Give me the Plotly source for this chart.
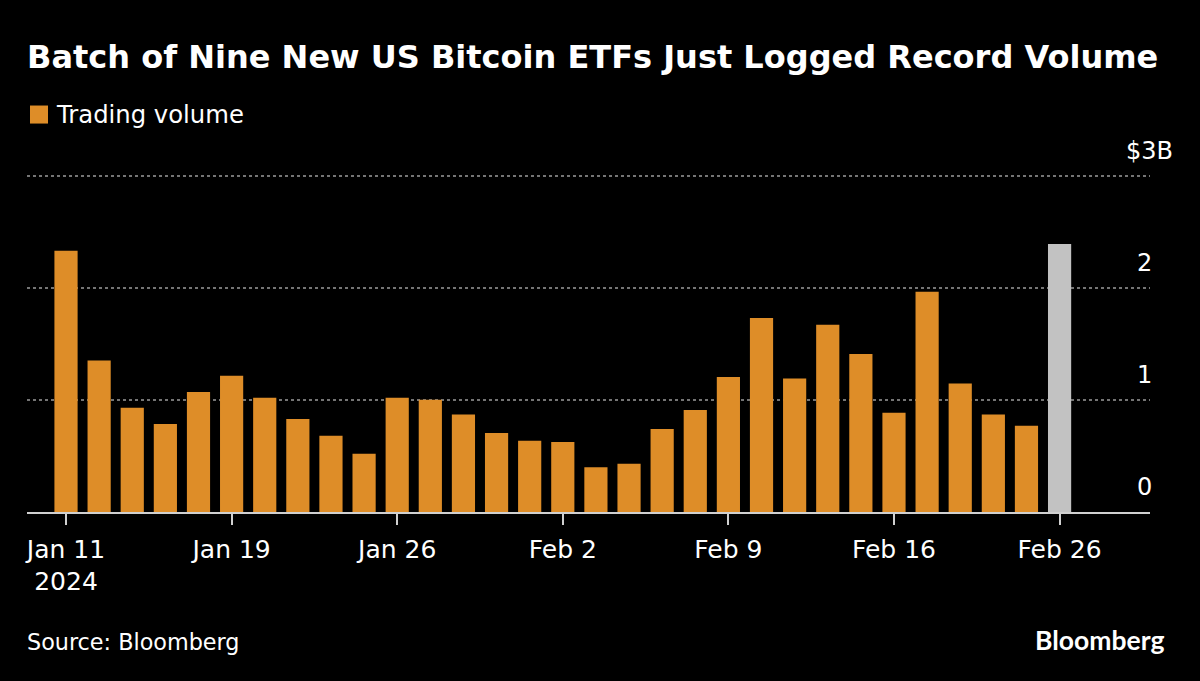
import plotly.graph_objects as go

trade_dates = ['2024-01-11', '2024-01-12', '2024-01-16', '2024-01-17', '2024-01-18', '2024-01-19',
               '2024-01-22', '2024-01-23', '2024-01-24', '2024-01-25', '2024-01-26',
               '2024-01-29', '2024-01-30', '2024-01-31', '2024-02-01', '2024-02-02',
               '2024-02-05', '2024-02-06', '2024-02-07', '2024-02-08', '2024-02-09',
               '2024-02-12', '2024-02-13', '2024-02-14', '2024-02-15', '2024-02-16',
               '2024-02-20', '2024-02-21', '2024-02-22', '2024-02-23', '2024-02-26']
volume = [2.33, 1.35, 0.93, 0.785, 1.07, 1.215,
          1.02, 0.83, 0.68, 0.52, 1.02,
          1.0, 0.87, 0.705, 0.635, 0.625,
          0.40, 0.43, 0.74, 0.91, 1.205,
          1.73, 1.19, 1.67, 1.41, 0.885,
          1.965, 1.145, 0.87, 0.77, 2.39]

x_tick_dates = ['2024-01-11', '2024-01-19', '2024-01-26', '2024-02-02', '2024-02-09', '2024-02-16', '2024-02-26']
x_tick_labels = ['Jan 11<br>2024', 'Jan 19', 'Jan 26', 'Feb 2', 'Feb 9', 'Feb 16', 'Feb 26']
y_ticks = [0, 1, 2, 3]
y_tick_labels = ['0', '1', '2', '$3B']

ORANGE = '#DE8D28'
GREY = '#C2C2C2'
FONT = 'DejaVu Sans'

PLOT_LEFT, PLOT_RIGHT, PLOT_TOP, PLOT_BOTTOM = 27, 1150, 170.4, 512


def px_x(px):
    return (px - PLOT_LEFT) / (PLOT_RIGHT - PLOT_LEFT)


def px_y(px):
    return (PLOT_BOTTOM - px) / (PLOT_BOTTOM - PLOT_TOP)


bar_colors = [ORANGE] * (len(volume) - 1) + [GREY]

fig = go.Figure()
fig.add_trace(go.Bar(x=trade_dates, y=volume, width=0.7, showlegend=False,
                     marker=dict(color=bar_colors, line=dict(width=0))))

fig.update_layout(
    width=1200, height=681,
    margin=dict(l=PLOT_LEFT, r=1200 - PLOT_RIGHT, t=PLOT_TOP, b=681 - PLOT_BOTTOM),
    paper_bgcolor='black', plot_bgcolor='black',
    font=dict(family=FONT, color='white', size=25),
    title=dict(text='<b>Batch of Nine New US Bitcoin ETFs Just Logged Record Volume</b>',
               x=27 / 1200, xanchor='left', y=1 - 57 / 681, yanchor='middle',
               font=dict(family=FONT, size=32, color='white')),
    showlegend=False,
)
fig.update_xaxes(type='category', categoryorder='array', categoryarray=trade_dates,
                 range=[-1.178, 32.73],
                 tickmode='array', tickvals=x_tick_dates, ticktext=x_tick_labels,
                 ticks='outside', ticklen=11, tickwidth=1.5, tickcolor='#D0D0D0',
                 showline=True, linecolor='#D0D0D0', linewidth=1.5,
                 showgrid=False, zeroline=False, ticklabelstandoff=3,
                 tickfont=dict(family=FONT, size=25, color='white'))
fig.update_yaxes(range=[0, 3.05], tickmode='array', tickvals=y_ticks, showticklabels=False,
                 showgrid=True, gridcolor='#757575', gridwidth=1.5, griddash='3px,3px',
                 zeroline=False, showline=False, ticks='')

# value labels sit above their gridlines, the unit hangs past the numbers
for val, label in zip(y_ticks, y_tick_labels):
    fig.add_annotation(xref='paper', yref='y', x=1, y=val, text=label, showarrow=False,
                       xanchor='right', yanchor='bottom', yshift=9,
                       xshift=25 if label.endswith('B') else 4,
                       font=dict(family=FONT, size=24, color='white'))

# legend
fig.add_shape(type='rect', xref='paper', yref='paper',
              x0=px_x(30), x1=px_x(48), y0=px_y(124), y1=px_y(106),
              fillcolor=ORANGE, line=dict(width=0))
fig.add_annotation(xref='paper', yref='paper', x=px_x(54), y=px_y(115),
                   text='Trading volume', showarrow=False, xanchor='left', yanchor='middle',
                   font=dict(family=FONT, size=24.3, color='white'))

fig.add_annotation(xref='paper', yref='paper', x=0, xshift=-2, y=px_y(642),
                   text='Source: Bloomberg', showarrow=False, xanchor='left', yanchor='middle',
                   font=dict(family=FONT, size=22.3, color='white'))
fig.add_annotation(xref='paper', yref='paper', x=px_x(1166), y=px_y(640),
                   text='<b>Bloomberg</b>', showarrow=False, xanchor='right', yanchor='middle',
                   font=dict(family='Lato', size=26.5, color='white'))

fig.write_html('out.html', config=dict(displayModeBar=False),
               post_script='document.body.style.margin="0";document.body.style.background="black";')
